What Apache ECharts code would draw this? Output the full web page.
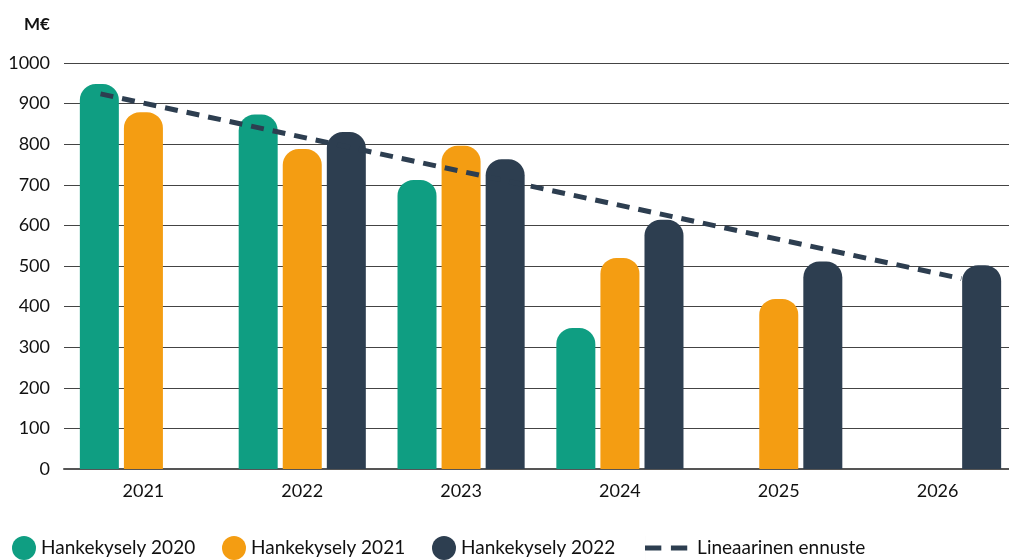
<!DOCTYPE html>
<html>
<head>
<meta charset="utf-8">
<script src="https://cdn.jsdelivr.net/npm/echarts@6/dist/echarts.min.js"></script>
<style>html,body{margin:0;padding:0;background:#fff}#c{width:1009px;height:560px}</style>
</head>
<body>
<div id="c"></div>
<script>
const categories = ['2021', '2022', '2023', '2024', '2025', '2026'];
const survey2020 = [948, 873, 712, 347, null, null];
const survey2021 = [879, 788, 796, 520, 419, null];
const survey2022 = [null, 830, 763, 614, 511, 502];
const trendX = [2020.73, 2026.15];
const trendY = [924, 469];
const yTicks = { min: 0, max: 1000, interval: 100 };
const seriesNames = ['Hankekysely 2020', 'Hankekysely 2021', 'Hankekysely 2022', 'Lineaarinen ennuste'];

const green = '#0f9e82', orange = '#f49d12', navy = '#2d3e50';
const font = 'Lato, "Noto Sans", sans-serif';
const chart = echarts.init(document.getElementById('c'));
const barCommon = { type: 'bar', barWidth: 39, barGap: '13%' };
const legendText = { fontFamily: font, fontSize: 19, color: '#111' };
const circleLegend = (name, left) => ({
  data: [name], left: left, top: 531, icon: 'circle', itemWidth: 24, itemHeight: 24,
  textStyle: legendText
});
chart.setOption({
  animation: false,
  textStyle: { fontFamily: font },
  title: { text: 'M€', left: 19, top: 11, textStyle: { fontFamily: font, fontSize: 17, fontWeight: 'bold', color: '#111' } },
  grid: { left: 64, top: 63, right: -8, bottom: 91, outerBoundsMode: 'none', containLabel: false },
  legend: [
    circleLegend(seriesNames[0], 7),
    circleLegend(seriesNames[1], 217),
    circleLegend(seriesNames[2], 427),
    {
      data: [seriesNames[3]], left: 640, top: 531, itemWidth: 44, itemHeight: 24,
      icon: 'path://M0,10h17v5h-17z M27,10h17v5h-17z M0,0h0.01v25h-0.01z',
      itemStyle: { color: navy },
      textStyle: Object.assign({}, legendText, { padding: [0, 0, 0, 4] })
    }
  ],
  xAxis: [
    {
      type: 'category', data: categories,
      axisLine: { lineStyle: { color: '#555', width: 2 } },
      axisTick: { show: false },
      axisLabel: { fontSize: 18, color: '#111', margin: 13 }
    },
    { type: 'value', min: 2020.5, max: 2026.5, show: false }
  ],
  yAxis: {
    type: 'value', min: yTicks.min, max: yTicks.max, interval: yTicks.interval,
    axisLine: { show: false }, axisTick: { show: false },
    axisLabel: { fontSize: 18, color: '#111', margin: 14, formatter: v => String(v) },
    splitLine: { lineStyle: { color: '#444', width: 1 } }
  },
  series: [
    Object.assign({}, barCommon, { name: seriesNames[0], data: survey2020, itemStyle: { color: green, borderRadius: [16, 16, 0, 0] } }),
    Object.assign({}, barCommon, { name: seriesNames[1], data: survey2021, itemStyle: { color: orange, borderRadius: [16, 16, 0, 0] } }),
    Object.assign({}, barCommon, { name: seriesNames[2], data: survey2022, itemStyle: { color: navy, borderRadius: [16, 16, 0, 0] } }),
    {
      name: seriesNames[3], type: 'line', xAxisIndex: 1, symbol: 'none', z: 5,
      data: trendX.map((x, i) => [x, trendY[i]]),
      itemStyle: { color: navy },
      lineStyle: { color: navy, width: 5, type: [13, 9] }
    }
  ]
});
</script>
</body>
</html>
